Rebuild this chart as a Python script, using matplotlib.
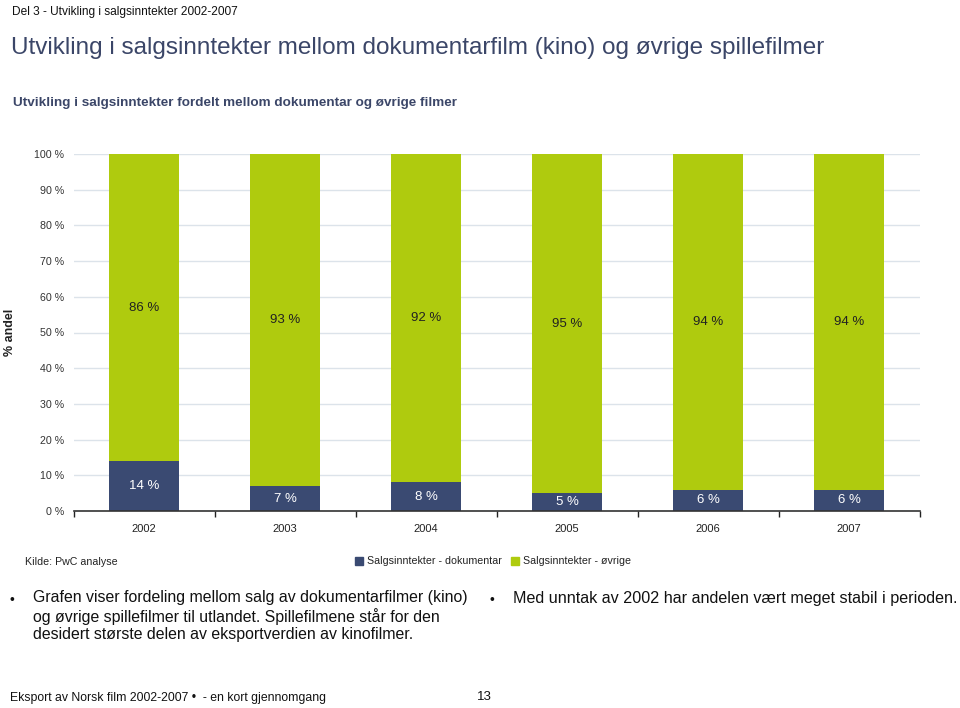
import matplotlib
matplotlib.use("Agg")
import matplotlib.pyplot as plt
import numpy as np
from matplotlib.patches import Rectangle

years = ["2002", "2003", "2004", "2005", "2006", "2007"]
dokumentar = [14, 7, 8, 5, 6, 6]
ovrige = [86, 93, 92, 95, 94, 94]
yticks = [0, 10, 20, 30, 40, 50, 60, 70, 80, 90, 100]
legend_labels = ["Salgsinntekter - dokumentar", "Salgsinntekter - øvrige"]

NAVY = "#3A4A72"
GREEN = "#AFCB0E"
TITLE = "#3B4668"
SANS = ["Liberation Sans", "DejaVu Sans"]

plt.rcParams["font.family"] = SANS

fig = plt.figure(figsize=(9.6, 7.08), dpi=100)
ax = fig.add_axes([73.5 / 960, 1 - 511 / 708, (919.5 - 73.5) / 960, 357 / 708])

x = np.arange(len(years))
ax.bar(x, dokumentar, width=0.5, color=NAVY, zorder=3)
ax.bar(x, ovrige, width=0.5, bottom=dokumentar, color=GREEN, zorder=3)

for i in range(len(years)):
    ax.text(x[i], dokumentar[i] / 2, f"{dokumentar[i]} %", ha="center", va="center",
            color="white", fontsize=9.5, zorder=4)
    ax.text(x[i], dokumentar[i] + ovrige[i] / 2, f"{ovrige[i]} %", ha="center", va="center",
            color="#222222", fontsize=9.5, zorder=4)

ax.set_xlim(-0.5, len(years) - 0.5)
ax.set_ylim(0, 100)
ax.set_yticks(yticks)
ax.set_yticklabels([f"{v} %" for v in yticks], fontsize=7.7, color="#333333")
ax.set_xticks(x)
ax.set_xticklabels(years, fontsize=8, color="#222222")
ax.set_xticks(np.arange(-0.5, len(years)), minor=True)
ax.tick_params(axis="x", which="major", length=0, pad=9)
ax.tick_params(axis="x", which="minor", length=4, direction="out", color="#222222", width=1)
ax.tick_params(axis="y", length=0, pad=7)
ax.yaxis.grid(True, color="#DCE3EA", linewidth=1, zorder=0)
for s in ["top", "right", "left"]:
    ax.spines[s].set_visible(False)
ax.spines["bottom"].set_color("#333333")
ax.spines["bottom"].set_linewidth(1.2)
ax.spines["bottom"].set_zorder(5)

fig.text(10 / 960, 1 - 332 / 708, "% andel", rotation=90, ha="center", va="center",
         fontsize=9, fontweight="bold", color="#222222")

# header texts
fig.text(12 / 960, 1 - 12 / 708, "Del 3 - Utvikling i salgsinntekter 2002-2007", ha="left",
         va="center", fontsize=8.6, color="#111111")
fig.text(11 / 960, 1 - 48 / 708, "Utvikling i salgsinntekter mellom dokumentarfilm (kino) og øvrige spillefilmer",
         ha="left", va="center", fontsize=17.5, color=TITLE)
fig.text(13 / 960, 1 - 103 / 708, "Utvikling i salgsinntekter fordelt mellom dokumentar og øvrige filmer",
         ha="left", va="center", fontsize=9.7, fontweight="bold", color=TITLE)

# source and legend
fig.text(25 / 960, 1 - 562 / 708, "Kilde: PwC analyse", ha="left", va="center", fontsize=7.7, color="#222222")
for xp, col, lab in [(355, NAVY, legend_labels[0]), (511, GREEN, legend_labels[1])]:
    fig.patches.append(Rectangle((xp / 960, 1 - 565 / 708), 8 / 960, 8 / 708,
                                 transform=fig.transFigure, color=col, figure=fig))
    fig.text((xp + 12) / 960, 1 - 561 / 708, lab, ha="left", va="center", fontsize=7.7, color="#222222")

# bullets
fig.text(10 / 960, 1 - 600 / 708, "•", ha="left", va="center", fontsize=10, color="#111111")
fig.text(33 / 960, 1 - 590 / 708,
         "Grafen viser fordeling mellom salg av dokumentarfilmer (kino)\n"
         "og øvrige spillefilmer til utlandet. Spillefilmene står for den\n"
         "desidert største delen av eksportverdien av kinofilmer.",
         ha="left", va="top", fontsize=11.4, color="#111111", linespacing=1.2)
fig.text(490 / 960, 1 - 600 / 708, "•", ha="left", va="center", fontsize=10, color="#111111")
fig.text(513 / 960, 1 - 599 / 708, "Med unntak av 2002 har andelen vært meget stabil i perioden.",
         ha="left", va="center", fontsize=11.6, color="#111111")

# footer
fig.text(10 / 960, 1 - 698 / 708, "Eksport av Norsk film 2002-2007 •  - en kort gjennomgang",
         ha="left", va="center", fontsize=8.8, color="#111111")
fig.text(484 / 960, 1 - 697 / 708, "13", ha="center", va="center", fontsize=9.5, color="#111111")

fig.savefig("out.png", dpi=100)
